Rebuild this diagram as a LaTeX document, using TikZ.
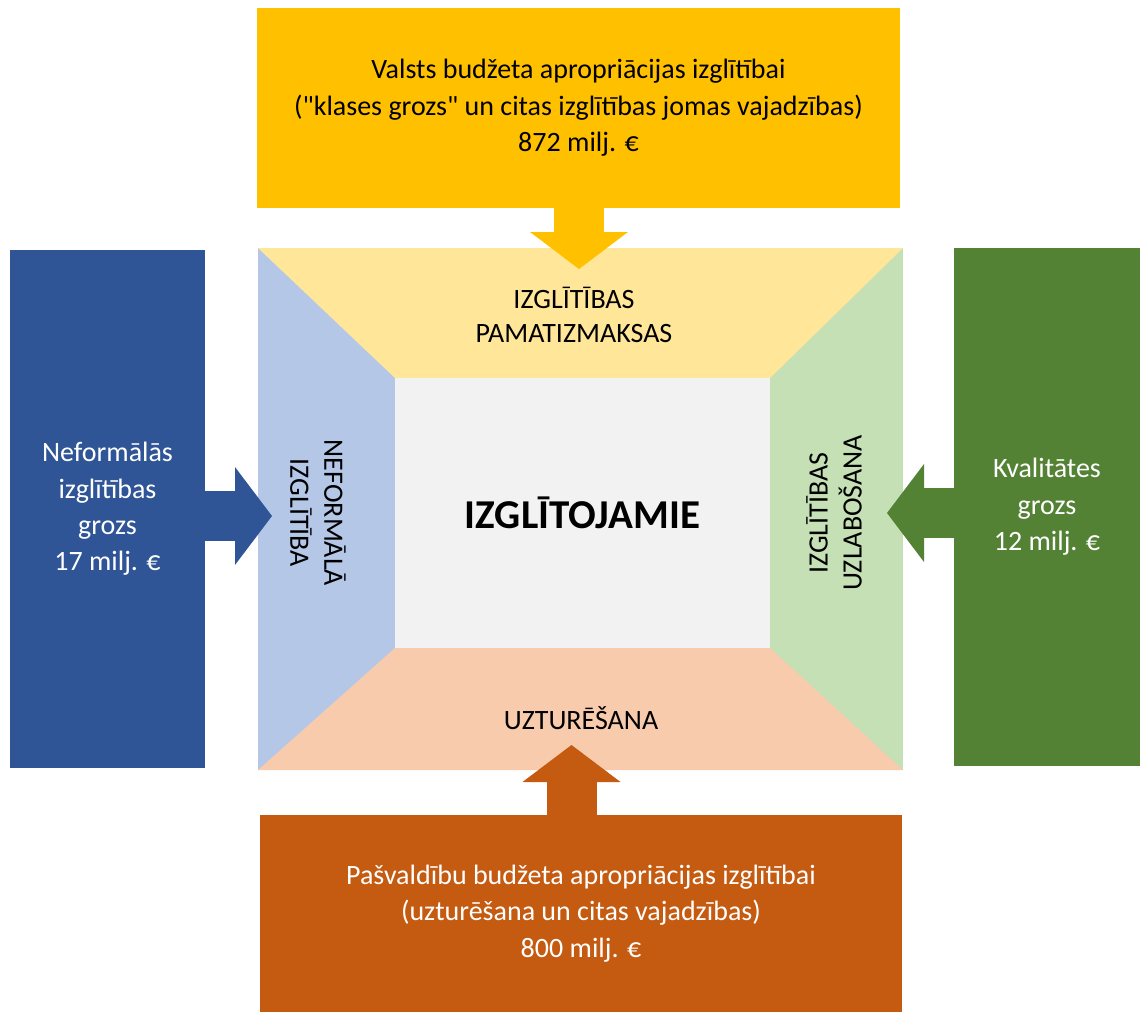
\documentclass[tikz,border=0pt]{standalone}
\usepackage{fontspec}
\setmainfont{Carlito}[Ligatures=TeXOff]
\usetikzlibrary{arrows.meta, positioning}

\definecolor{gold}{HTML}{FFC000}
\definecolor{navy}{HTML}{2F5597}
\definecolor{leaf}{HTML}{548235}
\definecolor{rust}{HTML}{C55A11}
\definecolor{paleblue}{HTML}{B4C7E7}
\definecolor{paleyellow}{HTML}{FFE699}
\definecolor{palegreen}{HTML}{C5E0B4}
\definecolor{paleorange}{HTML}{F8CBAD}
\definecolor{core}{HTML}{F2F2F2}

\tikzset{
  fund/.style={inner sep=0pt, align=center, font=\fontsize{14}{18.2}\selectfont},
  panel/.style={inner sep=0pt, align=center, font=\fontsize{14}{17}\selectfont},
  fat/.style={line width=25pt, -{Triangle[length=18.5pt,width=49pt,line width=0pt]}},
}

\begin{document}
\begin{tikzpicture}[x=0.5pt,y=-0.5pt]
   \useasboundingbox (0,0) rectangle (1140,1012);
   % frame and its four sides
   \path (258,248) coordinate (fnw) (903,770) coordinate (fse)
         (395,378) coordinate (inw) (770,648) coordinate (ise);
   \fill[paleblue] (fnw) rectangle (inw |- fse);
   \fill[palegreen] (ise |- fnw) rectangle (fse);
   \fill[paleyellow] (fnw) -- (fse |- fnw) -- (ise |- inw) -- (inw) -- cycle;
   \fill[paleorange] (inw |- ise) -- (ise) -- (fse) -- (fnw |- fse) -- cycle;
   \node[fill=core, inner sep=0pt, minimum width=187.5pt, minimum height=135pt,
         font=\bfseries\fontsize{20.5}{24}\selectfont] (pupils) at (582.5,513) {IZGLĪTOJAMIE};
   \node[panel] (basic) at (574,315) {IZGLĪTĪBAS\\PAMATIZMAKSAS};
   \node[panel, rotate=-90] (nonformal) at (318,513) {NEFORMĀLĀ\\IZGLĪTĪBA};
   \node[panel, rotate=90] (quality) at (834,513) {IZGLĪTĪBAS\\UZLABOŠANA};
   \node[panel] (upkeep) at (581,718) {UZTURĒŠANA};

   % funding sources
   \node[fund, fill=gold, minimum width=321.5pt, minimum height=100pt] (state) at (578.5,108)
      {Valsts budžeta apropriācijas izglītībai\\("klases grozs" un citas izglītības jomas vajadzības)\\872 milj. €};
   \node[fund, fill=navy, text=white, minimum width=97.5pt, minimum height=259pt] (nonformalfund) at (107.5,509)
      {Neformālās\\izglītības\\grozs\\17 milj. €};
   \node[fund, fill=leaf, text=white, minimum width=93pt, minimum height=259pt] (qualityfund) at (1047,507)
      {Kvalitātes\\grozs\\12 milj. €};
   \node[fund, fill=rust, text=white, minimum width=321pt, minimum height=98.5pt] (municipal) at (581,913.5)
      {Pašvaldību budžeta apropriācijas izglītībai\\(uzturēšana un citas vajadzības)\\800 milj. €};

   % block arrows
   \coordinate (tipT) at (579,269);
   \coordinate (tipL) at (272,516);
   \coordinate (tipR) at (887,513);
   \coordinate (tipB) at (571.5,745);
   \draw[fat, gold] (state.south -| tipT) -- (tipT);
   \draw[fat, navy] (nonformalfund.east |- tipL) -- (tipL);
   \draw[fat, leaf] (qualityfund.west |- tipR) -- (tipR);
   \draw[fat, rust] (municipal.north -| tipB) -- (tipB);
\end{tikzpicture}
\end{document}
